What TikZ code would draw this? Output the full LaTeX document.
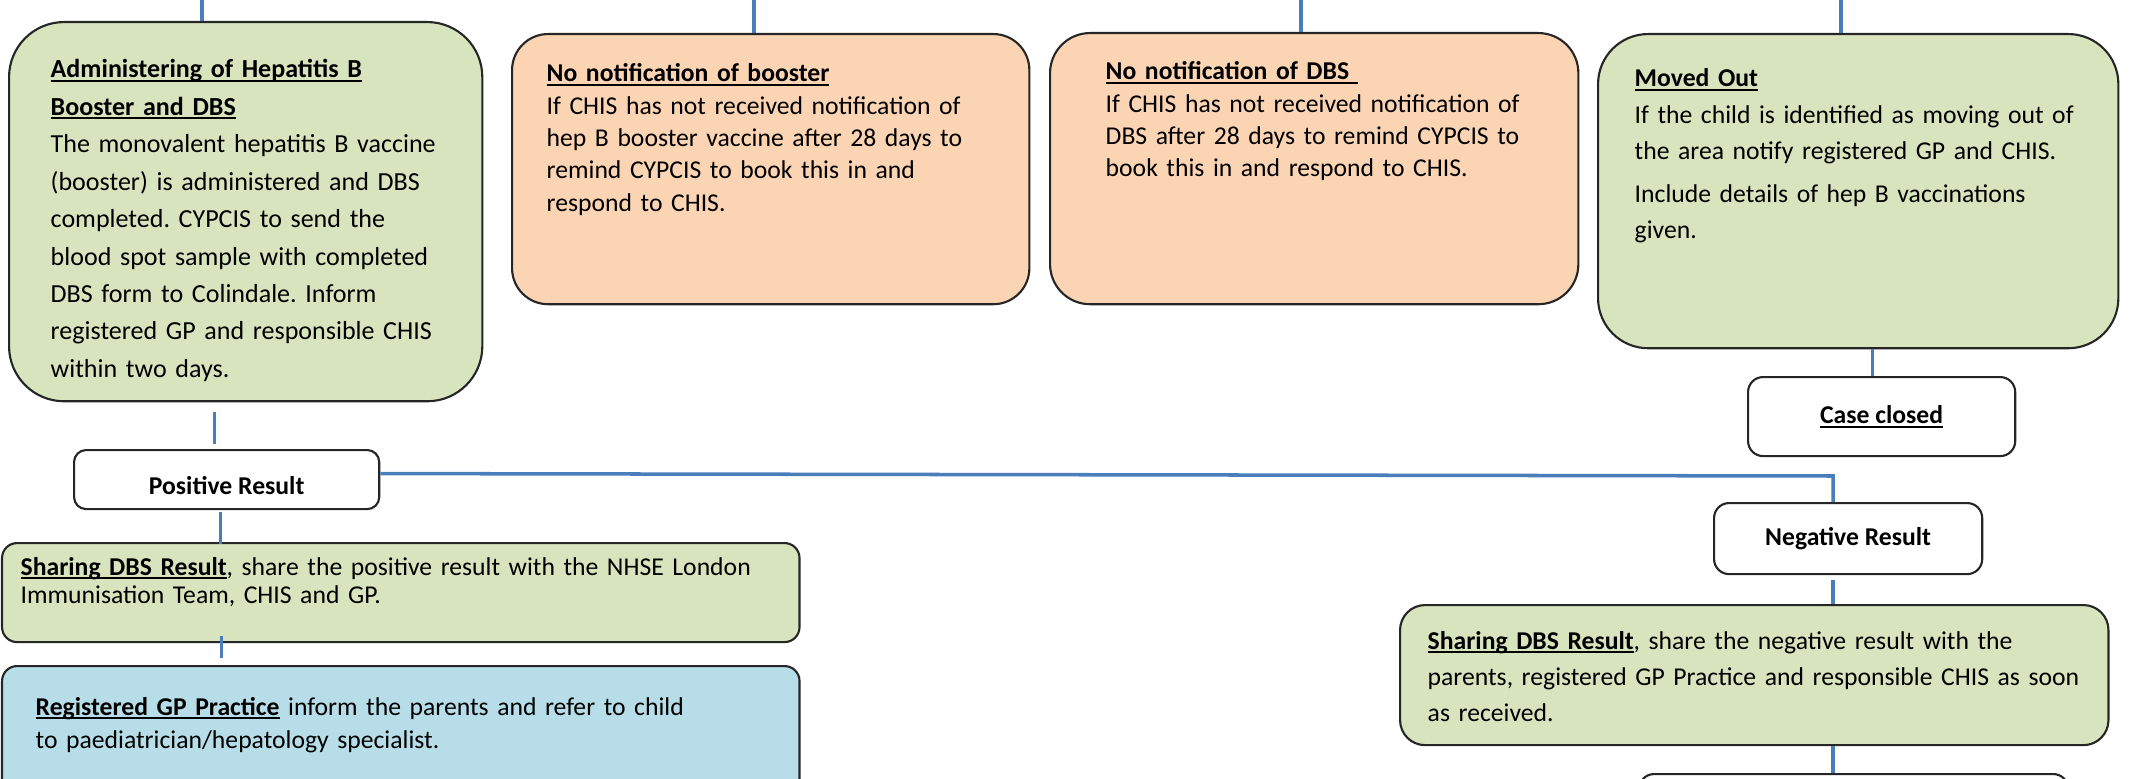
\documentclass[tikz,border=0pt]{standalone}
\usepackage{fontspec}
\setmainfont{Carlito}
\frenchspacing
\usetikzlibrary{calc}
\definecolor{boxgreen}{HTML}{D7E4BD}
\definecolor{boxpeach}{HTML}{FBD4B4}
\definecolor{boxblue}{HTML}{B7DEE8}
\definecolor{connblue}{HTML}{4A7EBB}
\newcommand{\hd}[1]{\leavevmode{\bfseries\setbox0\hbox{#1}\rlap{\rule[-1.1pt]{\wd0}{0.55pt}}\box0}}
\newcommand{\fs}[1]{\fontsize{7.3pt}{#1}\selectfont\frenchspacing}
\tikzset{
  box/.style={draw=black!85, line width=0.6pt, anchor=north west, inner sep=0pt},
  txt/.style={anchor=base west, align=left, inner sep=0pt, text width=7.9cm},
  conn/.style={draw=connblue, line width=1pt},
}
\begin{document}
\begin{tikzpicture}[x=0.01cm, y=-0.01cm]
\useasboundingbox (0,0) rectangle (2151,779);

% top free ends
\coordinate (c1) at (202,0);
\coordinate (c2) at (754,0);
\coordinate (c3) at (1301,0);
\coordinate (c4) at (1841,0);
\coordinate (turn) at (1833,476);

% boxes
\node[box, fill=boxgreen, rounded corners=0.55cm, minimum width=4.73cm, minimum height=3.79cm] (b1) at (8,21) {};
\node[box, fill=boxpeach, rounded corners=0.36cm, minimum width=5.17cm, minimum height=2.70cm] (b2) at (511,33) {};
\node[box, fill=boxpeach, rounded corners=0.40cm, minimum width=5.28cm, minimum height=2.71cm] (b3) at (1049,32) {};
\node[box, fill=boxgreen, rounded corners=0.50cm, minimum width=5.20cm, minimum height=3.14cm] (b4) at (1597,33) {};
\node[box, fill=white, rounded corners=0.15cm, minimum width=2.67cm, minimum height=0.79cm, font=\fs{9pt}] (cc) at (1747,376) {\hd{Case closed}};
\node[box, fill=white, rounded corners=0.12cm, minimum width=3.05cm, minimum height=0.59cm, text height=0.3cm, font=\fs{9pt}\bfseries] (pos) at (73,449) {Positive Result};
\node[box, fill=boxgreen, rounded corners=0.15cm, minimum width=7.97cm, minimum height=0.99cm] (ps) at (1,542) {};
\node[box, fill=boxblue, rounded corners=0.15cm, minimum width=7.97cm, minimum height=1.60cm] (rg) at (1,665) {};
\node[box, fill=white, rounded corners=0.15cm, minimum width=2.68cm, minimum height=0.71cm, font=\fs{9pt}\bfseries] (neg) at (1713,502) {Negative Result};
\node[box, fill=boxgreen, rounded corners=0.25cm, minimum width=7.08cm, minimum height=1.40cm] (ns) at (1399,604) {};
\node[box, fill=white, rounded corners=0.15cm, minimum width=4.29cm, minimum height=0.60cm] (nx) at (1638,773) {};

% texts
\node[txt, font=\fontsize{7.4pt}{10.64pt}\selectfont] (t1) at (50,78) {\hd{Administering of Hepatitis B}\\
\hd{Booster and DBS}\\
The monovalent hepatitis B vaccine\\
(booster) is administered and DBS\\
completed. CYPCIS to send the\\
blood spot sample with completed\\
DBS form to Colindale. Inform\\
registered GP and responsible CHIS\\
within two days.};
\node[txt, font=\fs{9.19pt}] (t2) at (546,82) {\hd{No notification of booster}\\
If CHIS has not received notification of\\
hep B booster vaccine after 28 days to\\
remind CYPCIS to book this in and\\
respond to CHIS.};
\node[txt, font=\fs{9.19pt}] (t3) at (1105,80) {\hd{No notification of DBS\ }\\
If CHIS has not received notification of\\
DBS after 28 days to remind CYPCIS to\\
book this in and respond to CHIS.};
\node[txt, font=\fs{10.24pt}] (t4) at (1634,87) {\hd{Moved Out}\\
If the child is identified as moving out of\\
the area notify registered GP and CHIS.\\[2pt]
Include details of hep B vaccinations\\
given.};
\node[txt, font=\fs{7.97pt}] (t5) at (20,575) {\hd{Sharing DBS Result}, share the positive result with the NHSE London\\
Immunisation Team, CHIS and GP.};
\node[txt, font=\fs{9.39pt}] (t6) at (35,715) {\hd{Registered GP Practice} inform the parents and refer to child\\
to paediatrician/hepatology specialist.};
\node[txt, font=\fs{10.24pt}] (t7) at (1427,649) {\hd{Sharing DBS Result}, share the negative result with the\\
parents, registered GP Practice and responsible CHIS as soon\\
as received.};

% connectors
\draw[conn] (c1) -- (c1 |- b1.north);
\draw[conn] (c2) -- (c2 |- b2.north);
\draw[conn] (c3) -- (c3 |- b3.north);
\draw[conn] (c4) -- (c4 |- b4.north);
\draw[conn] ($(b1.south -| pos.north)+(-12,10)$) -- ($(pos.north)+(-12,-5)$);
\draw[conn] ($(pos.south)+(-6,2)$) -- ($(ps.north -| pos.south)+(-6,2)$);
\draw[conn] ($(ps.south -| pos.south)+(-5,-7)$) -- ($(rg.north -| pos.south)+(-5,-7)$);
\draw[conn] ($(pos.east)+(0,-6)$) -- (turn) -- (turn |- neg.north);
\draw[conn] ($(neg.south -| turn)+(0,5)$) -- (ns.north -| turn);
\draw[conn] (ns.south -| turn) -- (nx.north -| turn);
\draw[conn] ($(b4.south -| cc.north)+(-9,0)$) -- ($(cc.north)+(-9,0)$);
\end{tikzpicture}
\end{document}
